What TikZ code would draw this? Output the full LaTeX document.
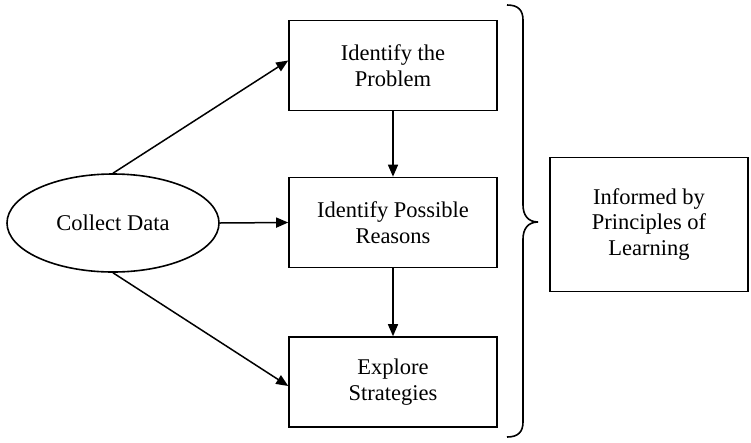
\documentclass[tikz,border=0pt]{standalone}
\usepackage{fontspec}
\setmainfont{Liberation Serif}
\usetikzlibrary{shapes.geometric,arrows.meta}
\begin{document}
\begin{tikzpicture}[x=1pt,y=-1pt,
  every node/.style={font=\fontsize{22.5}{25.5}\selectfont, align=center, line width=1.6pt},
  stepbox/.style={draw, rectangle, inner sep=0pt, minimum width=208pt, minimum height=90pt},
  conn/.style={line width=1.5pt, -{Triangle[length=12pt,width=10pt]}},
  bracepath/.style={line width=1.6pt}]
\useasboundingbox (0,0) rectangle (751,442);
\node[draw, ellipse, inner sep=0pt, minimum width=212pt, minimum height=98pt] (ell) at (113,223) {Collect Data};
\node[stepbox] (b1) at (393,65.5) {Identify the\\Problem};
\node[stepbox] (b2) at (393,222.5) {Identify Possible\\Reasons};
\node[stepbox] (b3) at (393,382) {Explore\\Strategies};
\node[draw, rectangle, inner sep=0pt, minimum width=198pt, minimum height=134pt] (inf) at (649,224.5) {Informed by\\Principles of\\Learning};
\coordinate (bt) at (507,5);
\coordinate (bb) at (507,437);
\coordinate (tip) at (538,222);
\draw[conn] (ell.north) -- ([yshift=5pt]b1.west);
\draw[conn] (ell.east) -- (b2.west);
\draw[conn] (ell.south) -- ([yshift=-4pt]b3.west);
\draw[conn] (b1.south) -- (b2.north);
\draw[conn] (b2.south) -- (b3.north);
\draw[bracepath] (bt) .. controls (518,5) and (523,10) .. (523,20) -- (523,205)
  .. controls (523,215) and (528,222) .. (tip)
  .. controls (528,222) and (523,229) .. (523,239) -- (523,422)
  .. controls (523,432) and (518,437) .. (bb);
\end{tikzpicture}
\end{document}
